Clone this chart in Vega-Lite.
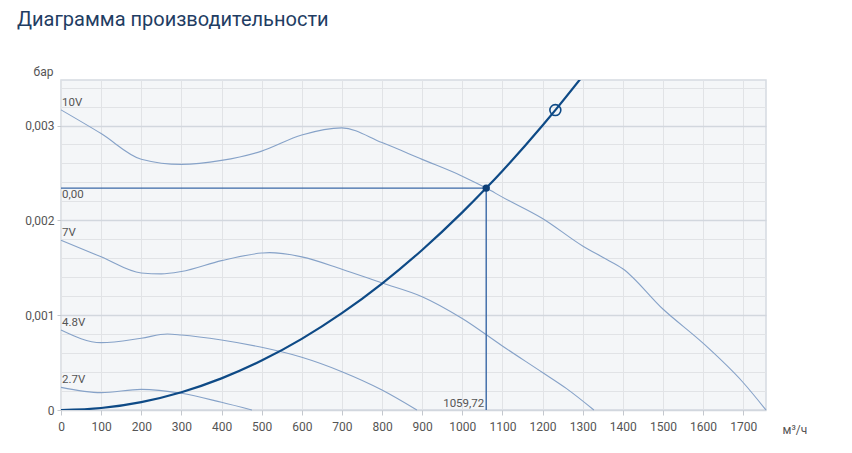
{
  "$schema": "https://vega.github.io/schema/vega-lite/v6.json",
  "width": 705,
  "height": 330,
  "autosize": "none",
  "padding": {"left": 61, "top": 80, "right": 86, "bottom": 43},
  "title": {
    "text": "Диаграмма производительности",
    "anchor": "start",
    "frame": "group",
    "dx": -44,
    "offset": 35,
    "fontSize": 20,
    "fontWeight": "normal",
    "color": "#1f3d63",
    "font": "Roboto"
  },
  "datasets": {
    "curves": [
      {"q": 0, "p": 0.003165, "curve": "10V"},
      {"q": 100, "p": 0.002915, "curve": "10V"},
      {"q": 200, "p": 0.002645, "curve": "10V"},
      {"q": 300, "p": 0.00259, "curve": "10V"},
      {"q": 400, "p": 0.002632, "curve": "10V"},
      {"q": 500, "p": 0.00273, "curve": "10V"},
      {"q": 600, "p": 0.0029, "curve": "10V"},
      {"q": 700, "p": 0.002975, "curve": "10V"},
      {"q": 800, "p": 0.00282, "curve": "10V"},
      {"q": 900, "p": 0.002643, "curve": "10V"},
      {"q": 1000, "p": 0.002466, "curve": "10V"},
      {"q": 1059.72, "p": 0.00234, "curve": "10V"},
      {"q": 1100, "p": 0.002245, "curve": "10V"},
      {"q": 1200, "p": 0.00202, "curve": "10V"},
      {"q": 1300, "p": 0.00173, "curve": "10V"},
      {"q": 1350, "p": 0.00161, "curve": "10V"},
      {"q": 1400, "p": 0.00149, "curve": "10V"},
      {"q": 1500, "p": 0.001065, "curve": "10V"},
      {"q": 1600, "p": 0.000705, "curve": "10V"},
      {"q": 1700, "p": 0.00029, "curve": "10V"},
      {"q": 1757, "p": 0, "curve": "10V"},
      {"q": 0, "p": 0.00179, "curve": "7V"},
      {"q": 100, "p": 0.001615, "curve": "7V"},
      {"q": 200, "p": 0.001445, "curve": "7V"},
      {"q": 250, "p": 0.001435, "curve": "7V"},
      {"q": 300, "p": 0.00146, "curve": "7V"},
      {"q": 400, "p": 0.001575, "curve": "7V"},
      {"q": 500, "p": 0.001655, "curve": "7V"},
      {"q": 520, "p": 0.00166, "curve": "7V"},
      {"q": 600, "p": 0.001615, "curve": "7V"},
      {"q": 700, "p": 0.001485, "curve": "7V"},
      {"q": 800, "p": 0.00134, "curve": "7V"},
      {"q": 900, "p": 0.001195, "curve": "7V"},
      {"q": 1000, "p": 0.000965, "curve": "7V"},
      {"q": 1100, "p": 0.000675, "curve": "7V"},
      {"q": 1200, "p": 0.000395, "curve": "7V"},
      {"q": 1260, "p": 0.000225, "curve": "7V"},
      {"q": 1328, "p": 0, "curve": "7V"},
      {"q": 0, "p": 0.000844, "curve": "4.8V"},
      {"q": 100, "p": 0.00071, "curve": "4.8V"},
      {"q": 200, "p": 0.000757, "curve": "4.8V"},
      {"q": 265, "p": 0.000801, "curve": "4.8V"},
      {"q": 300, "p": 0.000791, "curve": "4.8V"},
      {"q": 400, "p": 0.000738, "curve": "4.8V"},
      {"q": 500, "p": 0.000661, "curve": "4.8V"},
      {"q": 600, "p": 0.000556, "curve": "4.8V"},
      {"q": 700, "p": 0.000404, "curve": "4.8V"},
      {"q": 800, "p": 0.000211, "curve": "4.8V"},
      {"q": 887, "p": 0, "curve": "4.8V"},
      {"q": 0, "p": 0.000239, "curve": "2.7V"},
      {"q": 100, "p": 0.000183, "curve": "2.7V"},
      {"q": 200, "p": 0.000218, "curve": "2.7V"},
      {"q": 300, "p": 0.000176, "curve": "2.7V"},
      {"q": 400, "p": 0.000081, "curve": "2.7V"},
      {"q": 476, "p": 0, "curve": "2.7V"}
    ],
    "system": [
      {"q": 0, "p": 0},
      {"q": 100, "p": 0.0000208},
      {"q": 200, "p": 0.0000833},
      {"q": 300, "p": 0.0001875},
      {"q": 400, "p": 0.0003334},
      {"q": 500, "p": 0.0005209},
      {"q": 600, "p": 0.0007501},
      {"q": 700, "p": 0.001021},
      {"q": 800, "p": 0.0013336},
      {"q": 900, "p": 0.0016878},
      {"q": 1000, "p": 0.0020837},
      {"q": 1059.72, "p": 0.00234},
      {"q": 1100, "p": 0.0025213},
      {"q": 1200, "p": 0.0030005},
      {"q": 1232, "p": 0.0031627},
      {"q": 1300, "p": 0.0035214}
    ],
    "guide": [
      {"q": 0, "p": 0.00234, "i": 1},
      {"q": 1059.72, "p": 0.00234, "i": 2},
      {"q": 1059.72, "p": 0, "i": 3}
    ],
    "opPoint": [{"q": 1059.72, "p": 0.00234}],
    "maxPoint": [{"q": 1232, "p": 0.0031627}],
    "curveLabels": [
      {"q": 0, "p": 0.003165, "label": "10V"},
      {"q": 0, "p": 0.00179, "label": "7V"},
      {"q": 0, "p": 0.000844, "label": "4.8V"},
      {"q": 0, "p": 0.000239, "label": "2.7V"}
    ],
    "pLabel": [{"q": 0, "p": 0.00234, "label": "0,00"}],
    "qLabel": [{"q": 1059.72, "p": 0, "label": "1059,72"}]
  },
  "encoding": {
    "x": {
      "field": "q",
      "type": "quantitative",
      "scale": {"domain": [0, 1757], "nice": false, "zero": false},
      "axis": {
        "values": [0, 100, 200, 300, 400, 500, 600, 700, 800, 900, 1000, 1100, 1200, 1300, 1400, 1500, 1600, 1700],
        "format": "d",
        "title": "м³/ч",
        "titleAngle": 0,
        "titleX": 721,
        "titleY": 19,
        "titleAlign": "left",
        "titleBaseline": "middle",
        "tickSize": 5,
        "labelPadding": 6,
        "labelOverlap": false,
        "labelFlush": false
      }
    },
    "y": {
      "field": "p",
      "type": "quantitative",
      "scale": {"domain": [0, 0.00348], "nice": false, "zero": true},
      "axis": {
        "values": [0, 0.0002, 0.0004, 0.0006, 0.0008, 0.001, 0.0012, 0.0014, 0.0016, 0.0018, 0.002, 0.0022, 0.0024, 0.0026, 0.0028, 0.003, 0.0032, 0.0034],
        "labelExpr": "abs(datum.value*1000 - round(datum.value*1000)) < 0.001 ? (datum.value == 0 ? '0' : replace(format(datum.value, '.3f'), '.', ',')) : ''",
        "title": "бар",
        "titleAngle": 0,
        "titleX": -8,
        "titleY": -9,
        "titleAlign": "right",
        "titleBaseline": "middle",
        "tickSize": 4,
        "labelPadding": 3,
        "labelOverlap": false,
        "labelFlush": false,
        "tickOpacity": {"condition": {"test": "abs(datum.value*1000 - round(datum.value*1000)) < 0.001", "value": 1}, "value": 0},
        "gridColor": {"condition": {"test": "abs(datum.value*1000 - round(datum.value*1000)) < 0.001", "value": "#d2d7de"}, "value": "#e1e3e6"},
        "gridWidth": {"condition": {"test": "abs(datum.value*1000 - round(datum.value*1000)) < 0.001", "value": 1.6}, "value": 1}
      }
    }
  },
  "layer": [
    {
      "data": {"name": "curves"},
      "mark": {"type": "line", "interpolate": "monotone", "color": "#86a2c8", "strokeWidth": 1.1},
      "encoding": {"detail": {"field": "curve", "type": "nominal"}}
    },
    {
      "data": {"name": "guide"},
      "mark": {"type": "line", "color": "#3a68a6", "strokeWidth": 1.4},
      "encoding": {"order": {"field": "i", "type": "quantitative"}}
    },
    {
      "data": {"name": "system"},
      "mark": {"type": "line", "interpolate": "monotone", "color": "#0e4a86", "strokeWidth": 2.2, "clip": true},
      "encoding": {}
    },
    {
      "data": {"name": "opPoint"},
      "mark": {"type": "point", "shape": "circle", "filled": true, "size": 55, "color": "#0d3f77", "opacity": 1},
      "encoding": {}
    },
    {
      "data": {"name": "maxPoint"},
      "mark": {"type": "point", "shape": "circle", "filled": false, "size": 120, "color": "#0e4a86", "strokeWidth": 1.6, "opacity": 1},
      "encoding": {}
    },
    {
      "data": {"name": "curveLabels"},
      "mark": {"type": "text", "align": "left", "baseline": "middle", "dx": 1, "dy": -7, "fontSize": 11.5, "color": "#555555"},
      "encoding": {"text": {"field": "label", "type": "nominal"}}
    },
    {
      "data": {"name": "pLabel"},
      "mark": {"type": "text", "align": "left", "baseline": "middle", "dx": 1, "dy": 7, "fontSize": 11.5, "color": "#555555"},
      "encoding": {"text": {"field": "label", "type": "nominal"}}
    },
    {
      "data": {"name": "qLabel"},
      "mark": {"type": "text", "align": "right", "baseline": "middle", "dx": -2, "dy": -6, "fontSize": 11.5, "color": "#555555"},
      "encoding": {"text": {"field": "label", "type": "nominal"}}
    }
  ],
  "config": {
    "font": "Roboto",
    "background": "#ffffff",
    "view": {"fill": "#f4f6f8", "stroke": "#d5dae1", "strokeWidth": 1.5},
    "axis": {
      "domain": false,
      "grid": true,
      "gridColor": "#e1e3e6",
      "tickColor": "#c4c8ce",
      "labelColor": "#555555",
      "labelFontSize": 12,
      "labelFont": "Roboto",
      "titleColor": "#555555",
      "titleFontSize": 12,
      "titleFontWeight": "normal",
      "titleFont": "Roboto"
    }
  }
}
